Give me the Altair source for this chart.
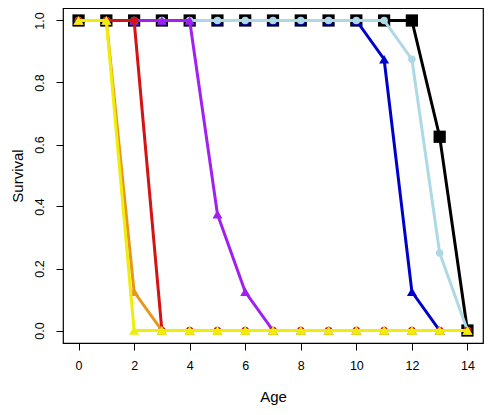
import altair as alt
import pandas as pd

ages = list(range(15))
# drawn in this order (later series on top)
series_names = ["black", "blue", "lightblue", "purple", "red", "orange", "yellow"]
series_values = {
    "black": [1]*13 + [0.625, 0],
    "blue": [1]*11 + [0.875, 0.125, 0, 0],
    "lightblue": [1]*12 + [0.875, 0.25, 0],
    "purple": [1]*5 + [0.375, 0.125] + [0]*8,
    "red": [1]*3 + [0]*12,
    "orange": [1, 1, 0.125] + [0]*12,
    "yellow": [1, 1] + [0]*13,
}
colors = ["#000000", "#0000CD", "#ADD8E6", "#A020F0", "#D41414", "#E8961C", "#EEEE0A"]
shapes = ["square", "triangle-up", "circle", "triangle-up", "circle", "triangle-up", "triangle-up"]
sizes = [150, 100, 56, 100, 56, 100, 100]
x_ticks = [0, 2, 4, 6, 8, 10, 12, 14]
y_ticks = [0.0, 0.2, 0.4, 0.6, 0.8, 1.0]

pad_frac = 12.5 / 310
xs = alt.Scale(domain=[-0.56, 14.56], nice=False, zero=False)
ys = alt.Scale(domain=[-pad_frac, 1 + pad_frac], nice=False, zero=False)
FONT = "Liberation Sans"
xax = alt.Axis(values=x_ticks, title="Age", grid=False, domain=False,
               tickSize=7, tickColor="black", labelPadding=9,
               titleY=58, titleBaseline="alphabetic",
               labelFontSize=12.5, titleFontSize=15, labelColor="black",
               titleColor="black", titleFontWeight="normal", labelFont=FONT,
               titleFont=FONT)
yax = alt.Axis(values=y_ticks, format=".1f", title="Survival", grid=False, domain=False,
               tickSize=7, tickColor="black", labelPadding=9.5,
               titleX=-41, titleBaseline="alphabetic",
               labelAngle=-90, labelAlign="center", labelBaseline="bottom",
               labelFontSize=12.5, titleFontSize=15, labelColor="black",
               titleColor="black", titleFontWeight="normal", labelFont=FONT,
               titleFont=FONT)

layers = []
for i, s in enumerate(series_names):
    d = pd.DataFrame({"Age": ages, "Survival": series_values[s]})
    base = alt.Chart(d)
    enc = dict(
        x=alt.X("Age:Q", scale=xs, axis=xax),
        y=alt.Y("Survival:Q", scale=ys, axis=yax),
    )
    layers.append(base.mark_line(color=colors[i], strokeWidth=3).encode(**enc))
    layers.append(base.mark_point(color=colors[i], filled=True, opacity=1,
                                  shape=shapes[i], size=sizes[i]).encode(**enc))

chart = alt.layer(*layers).properties(
    width=420, height=335,
    autosize=alt.AutoSizeParams(type="none"),
    padding={"left": 55, "top": 0, "right": 9, "bottom": 64},
).configure_view(stroke="black", strokeWidth=1.2)

chart.save("out.html", embed_options={"renderer": "svg", "actions": False})
